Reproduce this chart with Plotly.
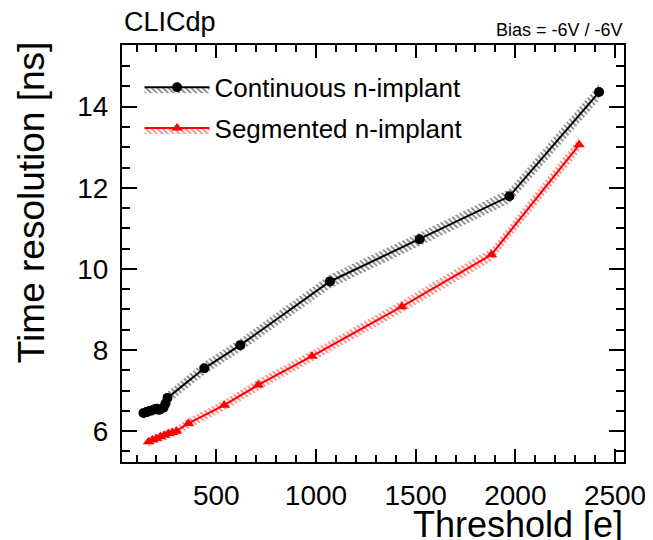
import plotly.graph_objects as go

# ---- data ----
cont_thr = [135, 150, 165, 185, 200, 215, 235, 245, 255, 440, 620, 1070, 1520, 1970, 2420]
cont_res = [6.45, 6.47, 6.50, 6.53, 6.55, 6.53, 6.58, 6.68, 6.82, 7.55, 8.12, 9.69, 10.73, 11.79, 14.36]
cont_err = [0.14, 0.14, 0.14, 0.14, 0.14, 0.14, 0.14, 0.15, 0.15, 0.16, 0.16, 0.17, 0.17, 0.18, 0.20]

seg_thr = [160, 180, 200, 220, 240, 260, 280, 300, 360, 540, 710, 980, 1430, 1880, 2320]
seg_res = [5.74, 5.78, 5.82, 5.86, 5.90, 5.94, 5.97, 6.00, 6.19, 6.64, 7.14, 7.85, 9.07, 10.35, 13.06]
seg_err = [0.12, 0.12, 0.12, 0.12, 0.12, 0.12, 0.12, 0.12, 0.13, 0.13, 0.14, 0.14, 0.15, 0.16, 0.18]

x_tickvals = [500, 1000, 1500, 2000, 2500]
y_tickvals = [6, 8, 10, 12, 14]

FONT = "Liberation Sans, Arial, Helvetica, sans-serif"

fig = go.Figure()


def add_band_series(x, y, err, color, symbol, name):
    up = [v + e for v, e in zip(y, err)]
    lo = [v - e for v, e in zip(y, err)]
    pattern = dict(shape="\\", fgcolor=color, bgcolor="rgba(0,0,0,0)", size=4, solidity=0.4)
    fig.add_trace(go.Scatter(x=x, y=up, mode="lines", line=dict(width=0, color=color),
                             legendgroup=name, showlegend=False, hoverinfo="skip"))
    fig.add_trace(go.Scatter(x=x, y=y, mode="lines+markers", name=name, legendgroup=name,
                             line=dict(width=2, color=color),
                             marker=dict(symbol=symbol, size=10, color=color),
                             fill="tonexty", fillcolor="rgba(0,0,0,0)", fillpattern=pattern))
    fig.add_trace(go.Scatter(x=x, y=lo, mode="lines", line=dict(width=0, color=color),
                             fill="tonexty", fillcolor="rgba(0,0,0,0)", fillpattern=pattern,
                             legendgroup=name, showlegend=False, hoverinfo="skip"))


add_band_series(cont_thr, cont_res, cont_err, "black", "circle", "Continuous n-implant")
add_band_series(seg_thr, seg_res, seg_err, "red", "triangle-up", "Segmented n-implant")

axis_common = dict(showgrid=False, zeroline=False, showline=True, linecolor="black", linewidth=2,
                   mirror="allticks", ticks="inside", tickcolor="black", tickwidth=2,
                   tickfont=dict(family=FONT, size=28, color="black"))

fig.update_xaxes(range=[27, 2545], tickvals=x_tickvals, ticklen=13, ticklabelstandoff=7,
                 minor=dict(dtick=100, tick0=0, ticks="inside", ticklen=7, tickcolor="black", tickwidth=2),
                 **axis_common)
fig.update_yaxes(range=[5.24, 15.52], tickvals=y_tickvals, ticklen=15, ticklabelstandoff=6,
                 minor=dict(dtick=0.5, tick0=0, ticks="inside", ticklen=8, tickcolor="black", tickwidth=2),
                 **axis_common)

# page body adds an 8px offset; margins compensate so the frame sits at x 122-624, y 45-462
fig.update_layout(
    width=653, height=540,
    margin=dict(l=114, r=37, t=37, b=86, autoexpand=False),
    paper_bgcolor="white", plot_bgcolor="white",
    font=dict(family=FONT, color="black"),
    showlegend=True,
    legend=dict(x=0.035, y=0.955, xanchor="left", yanchor="top", bgcolor="rgba(0,0,0,0)",
                font=dict(family=FONT, size=26, color="black"), itemwidth=65,
                traceorder="grouped", tracegroupgap=4),
    annotations=[
        dict(text="Time resolution [ns]", textangle=-90, xref="paper", yref="paper",
             x=-0.18, y=1.012, xanchor="center", yanchor="top", showarrow=False,
             font=dict(family=FONT, size=37, color="black")),
        dict(text="Threshold [e]", xref="paper", yref="paper",
             x=1.002, y=-0.151, xanchor="right", yanchor="middle", showarrow=False,
             font=dict(family=FONT, size=36, color="black")),
        dict(text="CLICdp", xref="paper", yref="paper",
             x=0.0, y=1.055, xanchor="left", yanchor="middle", showarrow=False,
             font=dict(family=FONT, size=27, color="black")),
        dict(text="Bias = -6V / -6V", xref="paper", yref="paper",
             x=1.002, y=1.036, xanchor="right", yanchor="middle", showarrow=False,
             font=dict(family=FONT, size=18, color="black")),
    ],
)

fig.write_html("out.html")
